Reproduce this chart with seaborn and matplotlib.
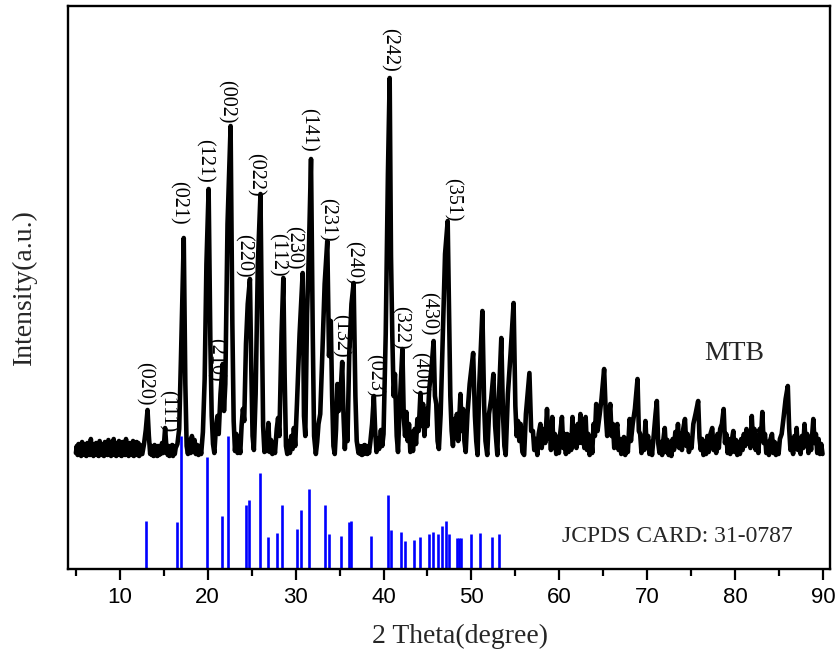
import numpy as np
import pandas as pd
import matplotlib
matplotlib.use("Agg")
import matplotlib.pyplot as plt
import seaborn as sns

# ---------------- data ----------------
# XRD pattern vertices: 2-theta (deg) and intensity (a.u.)
tt_a = [5.0, 5.1, 5.2, 5.3, 5.4, 5.5, 5.6, 5.7, 5.8, 5.9, 6.0, 6.1, 6.2, 6.3, 6.4, 6.5, 6.6, 6.7, 6.8,
        6.9, 7.0, 7.1, 7.2, 7.3, 7.4, 7.5, 7.6, 7.7, 7.8, 7.9, 8.0, 8.1, 8.2, 8.3, 8.4, 8.5, 8.6,
        8.7, 8.8, 8.9, 9.0, 9.1, 9.2, 9.3, 9.4, 9.5, 9.6, 9.7, 9.8, 9.9, 10.0, 10.1, 10.2, 10.3,
        10.4, 10.5, 10.6, 10.7, 10.8, 10.9, 11.0, 11.1, 11.2, 11.3, 11.4, 11.5, 11.6, 11.7, 11.8,
        11.9, 12.0, 12.1, 12.2, 12.3, 12.4]
in_a = [3, 10, 1, 12, 2, 11, 0, 14, 2, 12, 1, 10, 0, 13, 2, 11, 1, 17, 2, 12,
        0, 10, 2, 13, 1, 9, 0, 15, 2, 12, 1, 11, 0, 14, 2, 10, 1, 16, 2, 12,
        0, 11, 2, 17, 1, 12, 0, 13, 2, 15, 1, 11, 0, 14, 2, 12, 1, 17, 2, 12,
        0, 13, 2, 11, 1, 15, 0, 12, 2, 14, 1, 13, 0, 11, 2]

tt_b = [12.55, 12.75, 12.95, 13.15, 13.3, 13.45, 13.55, 13.65, 13.75, 13.85, 13.95, 14.05, 14.15, 14.25,
        14.35, 14.45, 14.55, 14.65, 14.8, 14.95, 15.15, 15.3, 15.45, 15.55, 15.65, 15.75, 15.85, 15.95,
        16.05, 16.15, 16.25, 16.35]
in_b = [2, 12, 26, 46, 20, 2, 10, 1, 9, 0, 11, 2, 8, 0, 10, 1,
        9, 2, 13, 3, 28, 8, 1, 10, 0, 9, 2, 11, 0, 10, 2, 8]

tt_c = [16.55, 16.75, 16.95, 17.27, 17.45, 17.6, 17.75, 17.9, 18.05, 18.2, 18.35, 18.5, 18.65, 18.8, 18.95,
        19.1, 19.25, 19.45, 19.65, 19.85, 20.1, 20.3, 20.45, 20.6, 20.75, 20.9, 21.1, 21.25, 21.45, 21.7,
        21.85, 22.0, 22.25, 22.6, 22.8, 22.95, 23.1, 23.25, 23.4]
in_c = [12, 27, 97, 218, 72, 10, 2, 16, 3, 20, 4, 16, 2, 11, 1,
        10, 2, 24, 77, 192, 267, 112, 40, 12, 3, 24, 40, 22, 62, 92,
        45, 72, 232, 330, 132, 35, 5, 22, 3]

tt_d = [23.55, 23.7, 23.85, 24.0, 24.15, 24.35, 24.55, 24.8, 24.95, 25.1, 25.25, 25.45, 25.7, 26.0, 26.15,
        26.3, 26.45, 26.6, 26.75, 26.9, 27.05, 27.2, 27.35, 27.5, 27.65, 27.85, 28.0, 28.15, 28.4, 28.6,
        28.75, 28.9, 29.05, 29.2, 29.35, 29.5, 29.65, 29.8, 29.95]
in_d = [14, 3, 30, 47, 35, 112, 152, 177, 90, 20, 6, 62, 192, 262, 140,
        30, 4, 17, 5, 33, 4, 16, 2, 12, 3, 27, 38, 20, 122, 178,
        80, 10, 2, 15, 3, 20, 7, 28, 10]

tt_e = [30.15, 30.45, 30.8, 30.95, 31.1, 31.3, 31.5, 31.75, 31.95, 32.1, 32.3, 32.45, 32.6, 32.8, 33.0,
        33.3, 33.6, 33.8, 34.0, 34.15, 34.3, 34.45, 34.6, 34.75, 34.9, 35.1, 35.3, 35.45, 35.6, 35.75,
        35.9, 36.1, 36.35, 36.6, 36.8, 36.95, 37.05, 37.15, 37.25, 37.35, 37.45, 37.55, 37.65, 37.75,
        37.85, 37.95, 38.05, 38.15, 38.25, 38.35, 38.5, 38.7]
in_e = [52, 122, 183, 40, 20, 142, 202, 297, 120, 20, 2, 14, 32, 42, 92,
        172, 215, 100, 135, 60, 10, 2, 27, 72, 45, 62, 94, 40, 7, 32,
        15, 102, 152, 173, 60, 15, 9, 3, 10, 2, 9, 1, 10, 2, 11, 3, 10, 2, 9, 3, 14, 32]

tt_f = [38.9, 39.05, 39.2, 39.35, 39.5, 39.7, 39.85, 40.0, 40.25, 40.5, 40.7, 40.85, 41.0, 41.15, 41.3,
        41.5, 41.65, 41.85, 42.15, 42.3, 42.45, 42.6, 42.75, 42.9, 43.05, 43.2, 43.35, 43.55, 43.7, 43.85,
        44.0, 44.2, 44.35, 44.5, 44.65, 44.85, 45.0, 45.2, 45.45, 45.7, 45.85, 46.0, 46.15, 46.3, 46.5,
        46.75, 47.0, 47.3, 47.45, 47.6, 47.75, 47.9, 48.05, 48.2, 48.35, 48.5, 48.75, 48.9, 49.05, 49.2, 49.35]
in_f = [60, 25, 4, 17, 7, 26, 10, 22, 122, 282, 378, 200, 120, 60, 82,
        20, 4, 52, 107, 40, 20, 44, 15, 32, 4, 24, 5, 27, 12, 37,
        25, 63, 30, 52, 20, 47, 30, 67, 87, 115, 60, 52, 15, 7, 42,
        122, 202, 235, 150, 60, 25, 10, 37, 18, 42, 15, 62, 25, 47, 15, 4]

tt_g = [49.55, 49.8, 50.2, 50.4, 50.55, 50.7, 50.9, 51.25, 51.45, 51.6, 51.8, 52.0, 52.25, 52.5, 52.7,
        52.95, 53.1, 53.4, 53.6, 53.75, 53.9, 54.15, 54.45, 54.8, 55.0, 55.15, 55.3, 55.45, 55.6, 55.8,
        56.0, 56.2, 56.6, 56.8, 57.0, 57.15, 57.3, 57.5, 57.65, 57.85, 58.0, 58.2, 58.4, 58.6, 58.75,
        58.9, 59.05, 59.2, 59.35, 59.5, 59.65, 59.8, 59.95, 60.1, 60.3, 60.45, 60.6, 60.75, 60.9, 61.05,
        61.2, 61.35, 61.5, 61.65, 61.8, 61.95, 62.1, 62.25, 62.4, 62.55, 62.7, 62.85, 63.0, 63.15, 63.3,
        63.45, 63.6, 63.75, 63.9, 64.05, 64.2, 64.35, 64.6, 64.8, 65.1, 65.3, 65.45, 65.6, 65.8, 65.95,
        66.1, 66.25, 66.4, 66.6, 66.75, 66.9, 67.05, 67.2, 67.35, 67.5, 67.65, 67.8, 68.0, 68.15, 68.35,
        68.6, 68.9, 69.05, 69.2, 69.35, 69.5, 69.65, 69.8, 69.95]
in_g = [42, 72, 103, 40, 15, 1, 72, 145, 50, 15, 1, 42, 57, 82, 30,
        1, 52, 118, 40, 10, 1, 62, 102, 153, 50, 20, 35, 15, 32, 4,
        1, 42, 83, 25, 25, 6, 17, 1, 22, 32, 8, 27, 13, 47, 18,
        32, 6, 39, 8, 22, 2, 19, 3, 22, 39, 8, 22, 2, 22, 4,
        20, 6, 39, 10, 27, 8, 32, 13, 42, 13, 30, 8, 39, 6, 22,
        1, 19, 3, 32, 20, 52, 25, 42, 57, 87, 40, 20, 37, 52, 20,
        32, 8, 24, 32, 6, 17, 2, 14, 19, 1, 17, 4, 37, 15, 32,
        47, 77, 25, 22, 3, 17, 6, 35, 8]

tt_h = [70.1, 70.25, 70.4, 70.55, 70.75, 70.95, 71.1, 71.25, 71.4, 71.55, 71.7, 71.85, 72.0, 72.15, 72.3,
        72.45, 72.6, 72.75, 72.9, 73.05, 73.2, 73.35, 73.5, 73.65, 73.8, 73.95, 74.1, 74.3, 74.45, 74.6,
        74.75, 74.9, 75.05, 75.25, 75.5, 75.8, 75.95, 76.1, 76.25, 76.4, 76.55, 76.7, 76.85, 77.0, 77.2,
        77.4, 77.55, 77.7, 77.85, 78.0, 78.15, 78.3, 78.5, 78.7, 78.85, 79.0, 79.15, 79.3, 79.45, 79.6,
        79.8, 79.95, 80.1, 80.25, 80.4, 80.55, 80.7, 80.85, 81.0, 81.15, 81.3, 81.45, 81.6, 81.75, 81.9,
        82.05, 82.2, 82.35, 82.5, 82.65, 82.8, 82.95, 83.1, 83.25, 83.4, 83.55, 83.7, 83.85, 84.0, 84.2,
        84.35, 84.5, 84.65, 84.8, 84.95, 85.1, 85.3, 85.5, 85.75, 86.0, 86.15, 86.3, 86.45, 86.6, 86.75,
        86.9, 87.0, 87.15, 87.3, 87.45, 87.6, 87.75, 87.9, 88.05, 88.2, 88.35, 88.5, 88.65, 88.9, 89.05,
        89.2, 89.35, 89.5, 89.65, 89.8, 89.95]
in_h = [20, 2, 14, 1, 22, 42, 55, 13, 3, 14, 1, 17, 28, 4, 16,
        1, 12, 0, 17, 6, 24, 10, 32, 8, 22, 6, 27, 37, 10, 22,
        4, 17, 8, 32, 42, 55, 18, 6, 17, 1, 14, 2, 20, 4, 22,
        28, 6, 18, 3, 22, 8, 27, 32, 47, 13, 22, 3, 17, 2, 14,
        25, 4, 16, 1, 14, 2, 17, 6, 22, 10, 27, 13, 22, 8, 40,
        13, 27, 6, 20, 3, 27, 18, 44, 13, 22, 3, 14, 1, 16, 22,
        3, 14, 1, 12, 2, 17, 22, 37, 57, 70, 28, 6, 17, 2, 20,
        8, 28, 6, 17, 2, 20, 8, 32, 10, 22, 3, 17, 6, 37, 13,
        22, 3, 17, 2, 12, 2]

# JCPDS card 31-0787 reference lines: 2-theta and relative intensity (%)
card_tt = [12.95, 16.5, 17.0, 19.96, 21.67, 22.35, 24.4, 24.7, 25.9, 26.9, 27.9, 28.5, 30.15, 30.6, 31.5,
           33.3, 33.8, 35.2, 36.1, 36.25, 38.6, 40.5, 40.9, 42.0, 42.5, 43.5, 44.1, 45.15, 45.6, 46.25,
           46.6, 47.1, 47.5, 48.4, 48.6, 48.8, 49.97, 50.95, 52.3, 53.1]
card_int = [36, 35, 100, 84, 40, 100, 48, 52, 72, 24, 27, 48, 30, 44, 60,
            48, 26, 25, 35, 36, 25, 56, 29, 28, 21, 22, 24, 26, 28, 26,
            32, 36, 26, 23, 23, 23, 26, 27, 24, 26]

# Miller-index labels: text, label x (2-theta) and label base (intensity a.u.)
hkl_text = ["(020)", "(111)", "(021)", "(121)", "(210)", "(002)", "(220)", "(022)",
            r"$\mathregular{(\bar{1}12)}$", "(230)", "(141)", "(231)", "(132)", "(240)", "(023)",
            "(242)", "(322)", "(400)", "(430)", "(351)"]
hkl_x = [12.73, 15.45, 16.6, 19.55, 20.9, 22.16, 24.0, 25.45, 28.24, 29.77, 31.48, 33.64, 35.1,
         36.6, 38.98, 40.68, 41.93, 44.1, 45.1, 47.84]
hkl_y = [51, 24, 231, 273, 74, 333, 178, 259, 179, 186, 304, 214, 98, 171, 59, 384, 106, 61, 121, 234]

# ---------------- build frames ----------------
xrd = pd.DataFrame({
    "two_theta": tt_a + tt_b + tt_c + tt_d + tt_e + tt_f + tt_g + tt_h,
    "intensity": in_a + in_b + in_c + in_d + in_e + in_f + in_g + in_h,
})
XRD_OFFSET = 113          # vertical stacking offset of the measured pattern
CARD_SCALE = 1.33         # height of a 100 % reference line
xrd["y"] = xrd["intensity"] + XRD_OFFSET
card = pd.DataFrame({"two_theta": card_tt, "y": np.array(card_int) * CARD_SCALE})

# ---------------- plot ----------------
sns.set_theme(style="ticks")
plt.rcParams["font.family"] = ["Liberation Serif", "DejaVu Serif"]
plt.rcParams["mathtext.fontset"] = "stix"

fig = plt.figure(figsize=(8.38, 6.59), dpi=100)
ax = fig.add_axes([68 / 838, 1 - 569 / 659, (830 - 68) / 838, (569 - 6) / 659])

sns.lineplot(data=xrd, x="two_theta", y="y", ax=ax, color="black", lw=3.3,
             sort=False, estimator=None)
ax.vlines(card["two_theta"], 0, card["y"], color="#0000FF", lw=1.9)

for t, x, y in zip(hkl_text, hkl_x, hkl_y):
    ax.text(x, y + XRD_OFFSET, t, rotation=-90, ha="center", va="bottom",
            fontsize=14.5, color="black", family=["Liberation Serif", "DejaVu Serif"])

ax.text(0.874, (569 - 353) / 563, "MTB", transform=ax.transAxes, ha="center", va="center",
        fontsize=20, family=["Liberation Serif"])
ax.text(0.8, (569 - 537) / 563, "JCPDS CARD: 31-0787", transform=ax.transAxes, ha="center",
        va="center", fontsize=17, family=["Liberation Serif"])

ax.set_xlim(4.1, 90.8)
ax.set_ylim(0, 563)
ax.set_xticks([10, 20, 30, 40, 50, 60, 70, 80, 90])
ax.set_xticks([5, 15, 25, 35, 45, 55, 65, 75, 85], minor=True)
ax.set_yticks([])
for lbl in ax.get_xticklabels():
    lbl.set_family(["Liberation Sans"])
ax.tick_params(axis="x", which="major", direction="out", length=8, width=1.6,
               labelsize=16, pad=5, color="black", labelcolor="black")
ax.tick_params(axis="x", which="minor", direction="out", length=5, width=1.6, color="black")
for s in ax.spines.values():
    s.set_linewidth(1.7)
    s.set_color("black")
    s.set_visible(True)

ax.set_xlabel("2 Theta(degree)", fontsize=20, family=["Liberation Serif"])
ax.xaxis.set_label_coords(0.514, -0.119)
ax.xaxis.label.set_va("center")
ax.set_ylabel("Intensity(a.u.)", fontsize=20, labelpad=22, family=["Liberation Serif"])

fig.savefig("out.png", dpi=100)
